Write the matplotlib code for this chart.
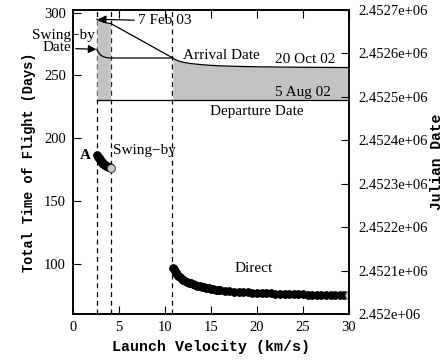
import numpy as np
import matplotlib.pyplot as plt
from matplotlib.ticker import FuncFormatter

# launch velocity (km/s) and total time of flight (days)
swing_v = [2.6, 2.7, 2.8, 2.9, 3.0, 3.1, 3.2, 3.3, 3.4, 3.5, 3.6, 3.7, 3.8, 3.9, 4.0, 4.1]
swing_tof = [186.5, 185.2, 184.0, 183.0, 182.1, 181.3, 180.5, 179.8, 179.2, 178.7,
             178.2, 177.8, 177.4, 177.1, 176.8, 176.5]

direct_v = [10.85, 10.95, 11.05, 11.15, 11.3, 11.45, 11.6, 11.8, 12.0, 12.2, 12.4, 12.6,
            12.8, 13.0, 13.25, 13.5, 13.75, 14.0, 14.25, 14.5, 14.75, 15.0, 15.25, 15.5,
            15.75, 16.0, 16.5, 17.0, 17.5, 18.0, 18.5, 19.0,
            19.5, 20.0, 20.5, 21.0, 21.5, 22.0, 22.5, 23.0, 23.5, 24.0, 24.5, 25.0,
            25.5, 26.0, 26.5, 27.0, 27.5, 28.0, 28.5, 29.0, 29.5, 30.0]
direct_tof = [97.0, 95.5, 94.2, 93.0, 91.6, 90.4, 89.4, 88.2, 87.2, 86.3, 85.6, 84.9,
              84.3, 83.8, 83.2, 82.6, 82.1, 81.6, 81.2, 80.8, 80.4, 80.1, 79.8, 79.5,
              79.2, 79.0, 78.6, 78.2, 77.9, 77.6, 77.4, 77.2,
              77.0, 76.8, 76.6, 76.5, 76.4, 76.2, 76.1, 76.0, 75.9, 75.8, 75.7, 75.6,
              75.5, 75.45, 75.4, 75.35, 75.3, 75.25, 75.2, 75.15, 75.1, 75.0]

# julian dates
departure_jd = 2452492.5            # 5 Aug 02
swingby_v = [2.6, 2.75, 2.9, 3.1, 3.3, 3.6, 4.1, 10.8]
swingby_jd = [2452609.5, 2452603.0, 2452598.5, 2452595.0, 2452592.5, 2452590.5,
              2452589.5, 2452589.5]
bounds_v = [2.6, 4.1, 10.8]

swing_arr = departure_jd + np.array(swing_tof)
direct_arr = departure_jd + np.array(direct_tof)

plt.rcParams['font.family'] = 'Liberation Serif'
plt.rcParams['font.size'] = 10

fig = plt.figure(figsize=(4.48, 3.62), dpi=100)
ax = fig.add_axes([73/448, 48/362, 276/448, 304/362])
ax2 = ax.twinx()

grey = '#c3c3c3'
ax2.fill_between(swing_v, departure_jd, swing_arr, color=grey, lw=0)
ax2.fill_between(direct_v, departure_jd, direct_arr, color=grey, lw=0)
ax2.plot(list(swing_v) + list(direct_v), list(swing_arr) + list(direct_arr), 'k-', lw=0.9)
ax2.plot(swingby_v, swingby_jd, 'k-', lw=0.9)
ax2.plot([bounds_v[0], 30], [departure_jd, departure_jd], 'k-', lw=0.9)

for v in bounds_v:
    ax.axvline(v, color='k', ls=(0, (4, 3)), lw=0.9)

ax.plot(swing_v, swing_tof, 'o', ms=5.6, mfc='k', mec='k', mew=0.6)
ax.plot(direct_v, direct_tof, 'o', ms=5.6, mfc='k', mec='k', mew=0.6)
ax.plot(swing_v[-1], swing_tof[-1], 'o', ms=5.6, mfc='#c8c8c8', mec='#555555', mew=0.6)
ax.plot(direct_v[-1], direct_tof[-1], 'o', ms=5.6, mfc='#c8c8c8', mec='#888888', mew=0.6)

ax.set_xlim(0, 30)
ax.set_ylim(60, 302)
ax2.set_ylim(2452000, 2452700)
ax.set_xticks([0, 5, 10, 15, 20, 25, 30])
ax.set_yticks([100, 150, 200, 250, 300])
ax2.set_yticks(np.arange(2452000, 2452701, 100))
ax2.yaxis.set_major_formatter(FuncFormatter(lambda y, p: '%g' % y))

ax.tick_params(axis='x', direction='in', top=True, length=6, pad=5, labelsize=10.5)
ax.tick_params(axis='y', direction='in', right=False, length=6, pad=5, labelsize=10.5)
ax2.tick_params(axis='y', direction='in', length=6, pad=7, labelsize=10.5)
for a in (ax, ax2):
    for s in a.spines.values():
        s.set_linewidth(1.2)

lab = dict(family='Liberation Mono', weight='bold')
ax.set_xlabel('Launch Velocity (km/s)', fontsize=10.8, labelpad=4, **lab)
ax.set_ylabel('Total Time of Flight (Days)', fontsize=9.8, labelpad=6, **lab)
ax2.set_ylabel('Julian Date', fontsize=10.5, **lab)
ax2.yaxis.set_label_coords(1.295, 0.5)

fs = 11
ax2.annotate('7 Feb 03', xy=(2.7, 2452678.5), xytext=(7.1, 2452675),
             va='center', ha='left', fontsize=fs,
             arrowprops=dict(arrowstyle='-|>', color='k', lw=0.9, shrinkA=1, shrinkB=0,
                             mutation_scale=12))
ax2.text(-1.05, 2452642, 'Swing\u2212by', ha='center', va='center', fontsize=fs, clip_on=False)
ax2.text(-1.7, 2452614, 'Date', ha='center', va='center', fontsize=fs, clip_on=False)
ax2.annotate('', xy=(2.55, 2452609.5), xytext=(0.3, 2452611),
             arrowprops=dict(arrowstyle='-|>', color='k', lw=0.9, shrinkA=0, shrinkB=0,
                             mutation_scale=12), annotation_clip=False)
ax2.text(11.95, 2452596, 'Arrival Date', ha='left', va='center', fontsize=fs)
ax2.text(21.95, 2452585, '20 Oct 02', ha='left', va='center', fontsize=fs)
ax2.text(21.95, 2452511, '5 Aug 02', ha='left', va='center', fontsize=fs)
ax2.text(20.0, 2452467, 'Departure Date', ha='center', va='center', fontsize=fs)
ax.text(1.3, 186, 'A', ha='center', va='center', fontsize=fs, weight='bold')
ax.text(4.3, 190, 'Swing\u2212by', ha='left', va='center', fontsize=fs)
ax.text(19.6, 96, 'Direct', ha='center', va='center', fontsize=fs)

fig.savefig('out.png', dpi=100)
